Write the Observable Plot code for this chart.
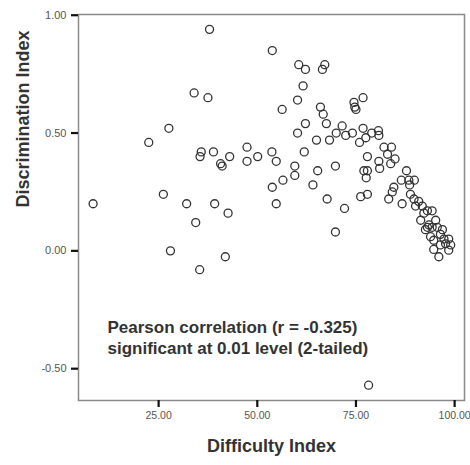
<!DOCTYPE html>
<html>
<head>
<meta charset="utf-8">
<script src="https://cdn.jsdelivr.net/npm/d3@7"></script>
<script src="https://cdn.jsdelivr.net/npm/@observablehq/plot@0.6"></script>
<style>
  html, body { margin: 0; padding: 0; background: #fff; }
  #chart { width: 470px; height: 465px; }
</style>
</head>
<body>
<div id="chart"></div>
<script>
const difficulty = [
  8.4, 22.5, 27.6, 34.0, 37.5, 37.9, 53.8, 60.5, 62.2, 61.6,
  60.2, 56.3, 62.2, 60.2, 35.8, 35.5, 38.9, 40.7, 41.1, 43.0,
  47.4, 47.4, 50.1, 53.7, 54.8, 61.9, 65.0, 59.5, 59.5, 56.5,
  53.8, 65.3, 64.1, 67.7, 54.8, 26.2, 32.1, 39.2, 42.6, 34.4,
  28.0, 41.9, 35.4, 69.8, 72.1, 69.8, 78.2, 67.5, 68.3, 66.5,
  67.1, 66.0, 66.7, 71.5, 70.0, 72.4, 74.1, 76.8, 74.5, 74.7,
  75.0, 76.8, 77.5, 75.9, 79.0, 80.7, 80.8, 82.1, 84.0, 83.0,
  84.9, 83.8, 77.9, 77.9, 77.0, 77.6, 80.8, 81.0, 87.8, 86.5,
  88.4, 89.8, 84.6, 88.6, 84.2, 83.3, 77.9, 76.2, 86.7, 88.8,
  89.7, 90.9, 91.8, 90.1, 92.2, 93.1, 94.3, 91.4, 95.2, 93.5,
  93.1, 94.3, 92.6, 95.6, 96.9, 96.4, 93.9, 94.7, 97.3, 98.5,
  99.0, 97.7, 96.4, 98.5, 94.7, 96.0
];
const discrimination = [
  0.20, 0.46, 0.52, 0.67, 0.65, 0.94, 0.85, 0.79, 0.77, 0.70,
  0.64, 0.60, 0.54, 0.50, 0.42, 0.40, 0.42, 0.37, 0.36, 0.40,
  0.44, 0.38, 0.40, 0.42, 0.38, 0.42, 0.47, 0.36, 0.32, 0.30,
  0.27, 0.34, 0.28, 0.22, 0.20, 0.24, 0.20, 0.20, 0.16, 0.12,
  0.00, -0.025, -0.08, 0.36, 0.18, 0.08, -0.57, 0.54, 0.47, 0.77,
  0.79, 0.61, 0.58, 0.53, 0.50, 0.49, 0.50, 0.65, 0.63, 0.61,
  0.60, 0.52, 0.48, 0.46, 0.50, 0.51, 0.49, 0.44, 0.44, 0.41,
  0.39, 0.37, 0.40, 0.34, 0.34, 0.31, 0.38, 0.35, 0.34, 0.30,
  0.30, 0.30, 0.27, 0.28, 0.25, 0.22, 0.24, 0.23, 0.20, 0.24,
  0.22, 0.21, 0.19, 0.19, 0.16, 0.17, 0.17, 0.13, 0.13, 0.11,
  0.10, 0.10, 0.09, 0.10, 0.09, 0.07, 0.06, 0.045, 0.05, 0.05,
  0.025, 0.03, 0.025, 0.003, 0.006, -0.025
];
const xTicks = [25, 50, 75, 100];
const yTicks = [-0.5, 0, 0.5, 1.0];
const xLabel = "Difficulty Index";
const yLabel = "Discrimination Index";
const annotation = "Pearson correlation (r = -0.325)\nsignificant at 0.01 level (2-tailed)";

const items = difficulty.map((d, i) => ({difficulty: d, discrimination: discrimination[i]}));

const chart = Plot.plot({
  width: 470,
  height: 465,
  marginLeft: 78,
  marginRight: 6,
  marginTop: 14,
  marginBottom: 65,
  style: {fontFamily: "'Liberation Sans', Arial, sans-serif", background: "#fff", color: "#111"},
  x: {domain: [4.7, 102.5]},
  y: {domain: [-0.635, 1.003]},
  marks: [
    Plot.frame({stroke: "#8a8a8a", strokeWidth: 1.5}),
    Plot.axisX(xTicks, {tickSize: 7, tickPadding: 4, strokeWidth: 2.2, color: "#111", fontSize: 10.5, tickFormat: d => d.toFixed(2), label: null}),
    Plot.axisY(yTicks, {tickSize: 7, tickPadding: 5, strokeWidth: 2.2, color: "#111", fontSize: 11, tickFormat: d => d.toFixed(2), label: null}),
    Plot.dot(items, {x: "difficulty", y: "discrimination", r: 4, stroke: "#333", strokeWidth: 1.3, fill: "none"}),
    Plot.text([annotation], {frameAnchor: "bottom-left", dx: 29, dy: -64, text: d => d, textAnchor: "start", lineAnchor: "middle", lineHeight: 1.27, fontSize: 17, fontWeight: "bold", fill: "#333"}),
    Plot.text([xLabel], {frameAnchor: "bottom", dy: 51, text: d => d, fontSize: 18, fontWeight: "bold", fill: "#333"}),
    Plot.text([yLabel], {frameAnchor: "left", dx: -55, rotate: -90, text: d => d, fontSize: 18, fontWeight: "bold", fill: "#333"})
  ]
});
chart.querySelectorAll('[aria-label="x-axis tick label"] text, [aria-label="y-axis tick label"] text').forEach(t => t.setAttribute("fill", "#555"));
document.getElementById("chart").appendChild(chart);
</script>
</body>
</html>
